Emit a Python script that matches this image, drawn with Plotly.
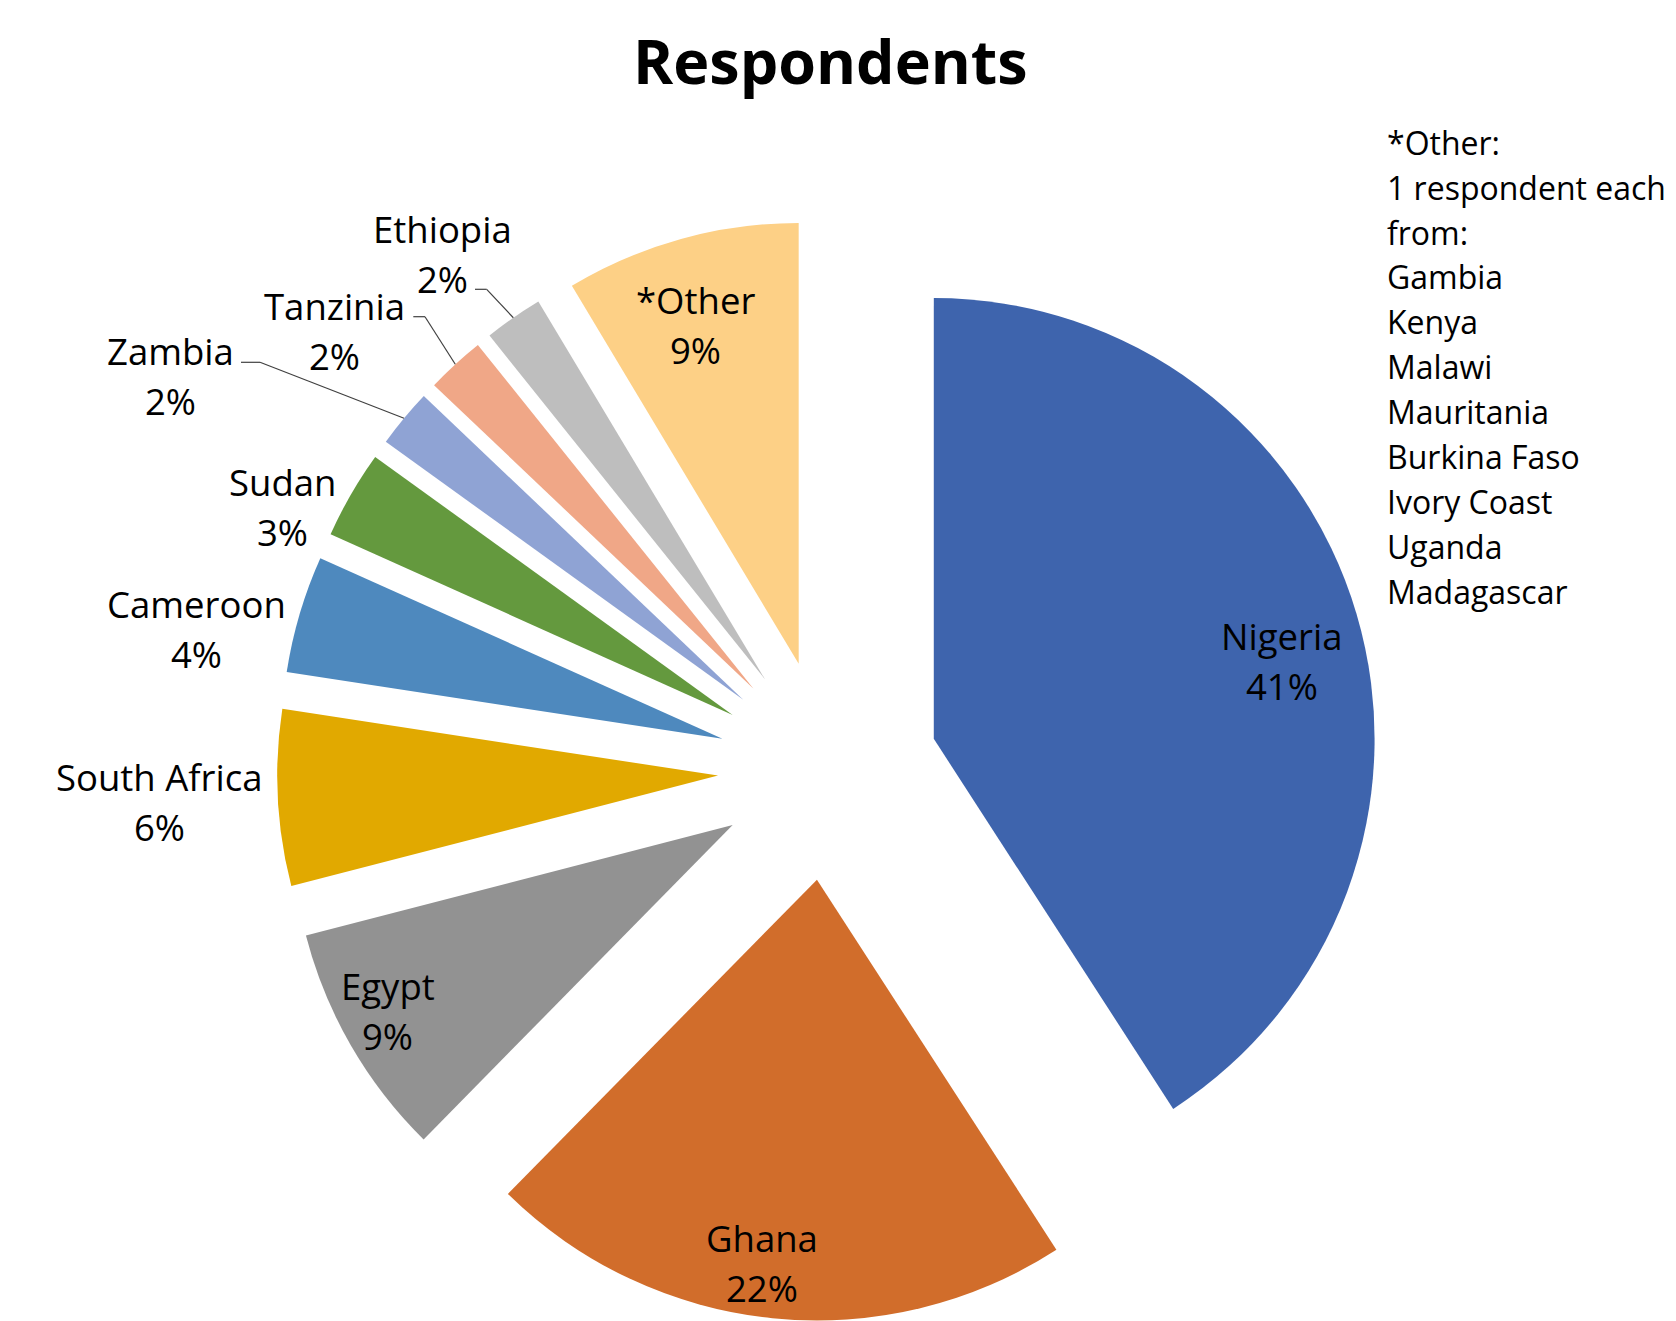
import math
import plotly.graph_objects as go

# ---------------- data ----------------
countries = ["Nigeria", "Ghana", "Egypt", "South Africa", "Cameroon", "Sudan",
             "Zambia", "Tanzinia", "Ethiopia", "*Other"]
respondents = [38, 20, 8, 6, 4, 3, 2, 2, 2, 8]
other_note = ["*Other:", "1 respondent each", "from:", "Gambia", "Kenya", "Malawi",
              "Mauritania", "Burkina Faso", "Ivory Coast", "Uganda", "Madagascar"]
title_text = "Respondents"

# ---------------- style ----------------
colors = ["#3E64AD", "#D16D2B", "#929292", "#E1A900", "#4E89BE", "#64993E",
          "#8FA3D4", "#F0A787", "#BEBEBE", "#FDD086"]
W, H = 1676, 1321
PULL = 0.25
CX, CY = 828.1, 770.0          # pie centre in px
BOX = 1102.0                   # pie domain box size in px
R = BOX / (2 + 2 * PULL)       # radius plotly will use
LCX, LCY, LR = 828.1, 780.5, 446.0   # reference frame for label placement
FONT = "Open Sans"
LABEL_SIZE = 36.5
LINE_GAP = 50

# label placement: (radius factor from centre, angle tweak in degrees)
label_place = {
    "Nigeria": (1.052, 1.7), "Ghana": (1.092, 2.0), "Egypt": (1.114, 2.4),
    "South Africa": (1.50, 1.1), "Cameroon": (1.457, -3.0), "Sudan": (1.368, -3.4),
    "Zambia": (1.73, -8.1), "Tanzinia": (1.497, -5.1), "Ethiopia": (1.464, -1.4),
    "*Other": (1.063, -0.7),
}
# leader lines: label-side start points (px) for outside labels with leaders
leaders = {"Zambia": [(241, 362.3), (260, 362.3)],
           "Tanzinia": [(413.3, 316.7), (425, 316.7)],
           "Ethiopia": [(475, 289.3), (486.7, 289.3)]}


def px(x, y):
    return x / W, 1 - y / H


def direction(deg):
    a = math.radians(deg)
    return math.sin(a), -math.cos(a)


total = sum(respondents)
fig = go.Figure()
fig.add_trace(go.Pie(
    labels=countries, values=respondents, sort=False, direction="clockwise",
    rotation=0, pull=[PULL] * len(countries),
    marker=dict(colors=colors, line=dict(width=0)),
    textinfo="none", showlegend=False, hoverinfo="label+percent",
    domain=dict(x=[(CX - BOX / 2) / W, (CX + BOX / 2) / W], y=[0, BOX / H]),
))

annotations = []
shapes = []
cum = 0
for name, v in zip(countries, respondents):
    mid = (cum + v / 2) / total * 360
    cum += v
    pct = f"{round(100 * v / total)}%"
    k, dth = label_place[name]
    dx, dy = direction(mid + dth)
    lx, ly = LCX + k * LR * dx, LCY + k * LR * dy
    for txt, yy in ((name, ly - LINE_GAP / 2), (pct, ly + LINE_GAP / 2)):
        xp, yp = px(lx, yy)
        annotations.append(dict(text=txt, x=xp, y=yp, xref="paper", yref="paper",
                                xanchor="center", yanchor="middle", showarrow=False,
                                font=dict(family=FONT, size=LABEL_SIZE, color="#000000")))
    if name in leaders:
        mdx, mdy = direction(mid)
        ex = CX + PULL * R * mdx + R * mdx
        ey = CY + PULL * R * mdy + R * mdy
        pts = leaders[name] + [(ex, ey)]
        for (x0, y0), (x1, y1) in zip(pts[:-1], pts[1:]):
            a0, b0 = px(x0, y0)
            a1, b1 = px(x1, y1)
            shapes.append(dict(type="line", xref="paper", yref="paper",
                               x0=a0, y0=b0, x1=a1, y1=b1,
                               line=dict(color="#404040", width=1.2)))

# side note
for i, line in enumerate(other_note):
    xp, yp = px(1385, 142.2 + i * 44.9)
    annotations.append(dict(text=line, x=xp, y=yp, xref="paper", yref="paper",
                            xanchor="left", yanchor="middle", showarrow=False,
                            font=dict(family=FONT, size=32, color="#000000")))

tx, ty = px(830, 61)
annotations.append(dict(text=f"<b>{title_text}</b>", x=tx, y=ty, xref="paper", yref="paper",
                        xanchor="center", yanchor="middle", showarrow=False,
                        font=dict(family=FONT, size=61, color="#000000")))

fig.update_layout(width=W, height=H, margin=dict(l=0, r=0, t=0, b=0),
                  paper_bgcolor="white", plot_bgcolor="white",
                  annotations=annotations, shapes=shapes)
fig.write_html("out.html")
